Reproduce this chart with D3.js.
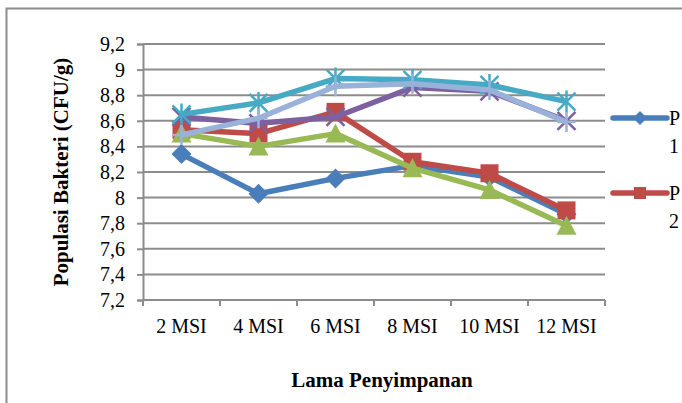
<!DOCTYPE html>
<html>
<head>
<meta charset="utf-8">
<script src="https://cdn.jsdelivr.net/npm/d3@7/dist/d3.min.js"></script>
<style>
  html, body { margin: 0; padding: 0; background: #fff; }
  svg { display: block; }
</style>
</head>
<body>
<svg id="chart" width="682" height="403"></svg>
<script>
// Storage time categories
const categories = ["2 MSI", "4 MSI", "6 MSI", "8 MSI", "10 MSI", "12 MSI"];
// Y-axis tick values and their labels (comma decimal)
const yTicks = [7.2, 7.4, 7.6, 7.8, 8, 8.2, 8.4, 8.6, 8.8, 9, 9.2];
const yTickLabels = ["7,2", "7,4", "7,6", "7,8", "8", "8,2", "8,4", "8,6", "8,8", "9", "9,2"];

// Bacterial population per treatment (log CFU/g)
const seriesNames = ["P 1", "P 2", "P 3", "P 4", "P 5", "P 6"];
const p1 = [8.34, 8.03, 8.15, 8.25, 8.16, 7.87];
const p2 = [8.53, 8.50, 8.67, 8.28, 8.19, 7.90];
const p3 = [8.50, 8.40, 8.50, 8.23, 8.06, 7.78];
const p4 = [8.63, 8.58, 8.63, 8.86, 8.83, 8.60];
const p5 = [8.65, 8.74, 8.93, 8.92, 8.88, 8.75];
const p6 = [8.49, 8.62, 8.87, 8.89, 8.84, 8.59];

const series = [
  { name: seriesNames[0], values: p1, color: "#4A7EBB", marker: "diamond" },
  { name: seriesNames[1], values: p2, color: "#BE4B48", marker: "square" },
  { name: seriesNames[2], values: p3, color: "#98B954", marker: "triangle" },
  { name: seriesNames[3], values: p4, color: "#7D60A0", marker: "x" },
  { name: seriesNames[4], values: p5, color: "#46AAC5", marker: "star" },
  { name: seriesNames[5], values: p6, color: "#9AB2DA", marker: "plus" }
];

const FONT = "'Liberation Serif', 'Times New Roman', serif";
const svg = d3.select("#chart");

// Outer chart frame (runs past the right and bottom edges)
svg.append("rect")
  .attr("x", 6.5).attr("y", 8.5)
  .attr("width", 700).attr("height", 420)
  .attr("fill", "none").attr("stroke", "#8c8c8c").attr("stroke-width", 2);

const plot = { left: 143, right: 605, top: 44, bottom: 300 };

const x = d3.scaleBand().domain(categories).range([plot.left, plot.right]).padding(0);
const y = d3.scaleLinear().domain([7.2, 9.2]).range([plot.bottom, plot.top]);

// Horizontal gridlines
svg.append("g")
  .selectAll("line")
  .data(yTicks)
  .join("line")
  .attr("x1", plot.left).attr("x2", plot.right)
  .attr("y1", d => y(d)).attr("y2", d => y(d))
  .attr("stroke", "#8c8c8c").attr("stroke-width", 2);

// Y axis
const yAxis = d3.axisLeft(y)
  .tickValues(yTicks)
  .tickFormat((d, i) => yTickLabels[i])
  .tickSize(6)
  .tickPadding(12);
const gy = svg.append("g").attr("transform", `translate(${plot.left},0)`).call(yAxis);
gy.attr("font-family", null).attr("font-size", null);
gy.select(".domain").attr("stroke", "#8c8c8c").attr("stroke-width", 2);
gy.selectAll(".tick line").attr("stroke", "#8c8c8c").attr("stroke-width", 2);
gy.selectAll(".tick text")
  .style("font-family", FONT)
  .style("font-size", "20px").attr("fill", "#000");

// X axis (ticks at category boundaries)
const gx = svg.append("g").attr("transform", `translate(0,${plot.bottom})`);
gx.append("line")
  .attr("x1", plot.left).attr("x2", plot.right)
  .attr("stroke", "#8c8c8c").attr("stroke-width", 2);
const boundaries = categories.map(c => x(c)).concat([x(categories[categories.length - 1]) + x.bandwidth()]);
gx.selectAll(".xtick")
  .data(boundaries)
  .join("line")
  .attr("x1", d => d).attr("x2", d => d)
  .attr("y1", 0).attr("y2", 6)
  .attr("stroke", "#8c8c8c").attr("stroke-width", 2);
gx.selectAll(".xlabel")
  .data(categories)
  .join("text")
  .attr("x", d => x(d) + x.bandwidth() / 2)
  .attr("y", 33)
  .attr("text-anchor", "middle")
  .style("font-family", FONT)
  .style("font-size", "20px")
  .text(d => d);

// Axis titles
svg.append("text")
  .attr("x", 382).attr("y", 387)
  .attr("text-anchor", "middle")
  .style("font-family", FONT)
  .style("font-size", "21px").style("font-weight", "bold")
  .text("Lama Penyimpanan");

svg.append("text")
  .attr("transform", "translate(68,172) rotate(-90)")
  .attr("text-anchor", "middle")
  .style("font-family", FONT)
  .style("font-size", "21px").style("font-weight", "bold")
  .text("Populasi Bakteri (CFU/g)");

const cx = c => x(c) + x.bandwidth() / 2;
const line = d3.line().x((d, i) => cx(categories[i])).y(d => y(d));

function drawMarker(g, type, color, px, py, s) {
  const h = s / 2;
  if (type === "diamond") {
    g.append("path").attr("d", `M${px},${py - h - 1}L${px + h + 1},${py}L${px},${py + h + 1}L${px - h - 1},${py}Z`)
      .attr("fill", color);
  } else if (type === "square") {
    g.append("rect").attr("x", px - h).attr("y", py - h).attr("width", s).attr("height", s)
      .attr("fill", color);
  } else if (type === "triangle") {
    g.append("path").attr("d", `M${px},${py - h - 1}L${px + h + 1},${py + h}L${px - h - 1},${py + h}Z`)
      .attr("fill", color);
  } else if (type === "x") {
    g.append("path").attr("d", `M${px - h},${py - h}L${px + h},${py + h}M${px + h},${py - h}L${px - h},${py + h}`)
      .attr("stroke", color).attr("stroke-width", 2.5);
  } else if (type === "star") {
    g.append("path").attr("d", `M${px - h},${py - h}L${px + h},${py + h}M${px + h},${py - h}L${px - h},${py + h}M${px},${py - h - 2}L${px},${py + h + 2}`)
      .attr("stroke", color).attr("stroke-width", 2.5);
  } else if (type === "plus") {
    g.append("path").attr("d", `M${px},${py - h - 1}L${px},${py + h + 1}M${px - h},${py}L${px + h},${py}`)
      .attr("stroke", color).attr("stroke-width", 2.5);
  }
}

// Series lines and markers
series.forEach(s => {
  const g = svg.append("g");
  g.append("path")
    .datum(s.values)
    .attr("d", line)
    .attr("fill", "none")
    .attr("stroke", s.color)
    .attr("stroke-width", 5.5)
    .attr("stroke-linejoin", "round");
  s.values.forEach((v, i) => drawMarker(g, s.marker, s.color, cx(categories[i]), y(v), 18));
});

// Legend (clipped by the right edge of the page)
const legend = svg.append("g");
series.slice(0, 2).forEach((s, i) => {
  const ly = 118 + i * 75;
  legend.append("line")
    .attr("x1", 613).attr("x2", 667).attr("y1", ly).attr("y2", ly)
    .attr("stroke", s.color).attr("stroke-width", 5.5).attr("stroke-linecap", "round");
  drawMarker(legend, s.marker, s.color, 640, ly, 12);
  const parts = s.name.split(" ");
  legend.append("text").attr("x", 669).attr("y", ly + 7)
    .style("font-family", FONT).style("font-size", "20px").text(parts[0]);
  legend.append("text").attr("x", 669).attr("y", ly + 35)
    .style("font-family", FONT).style("font-size", "20px").text(parts[1]);
});
</script>
</body>
</html>
